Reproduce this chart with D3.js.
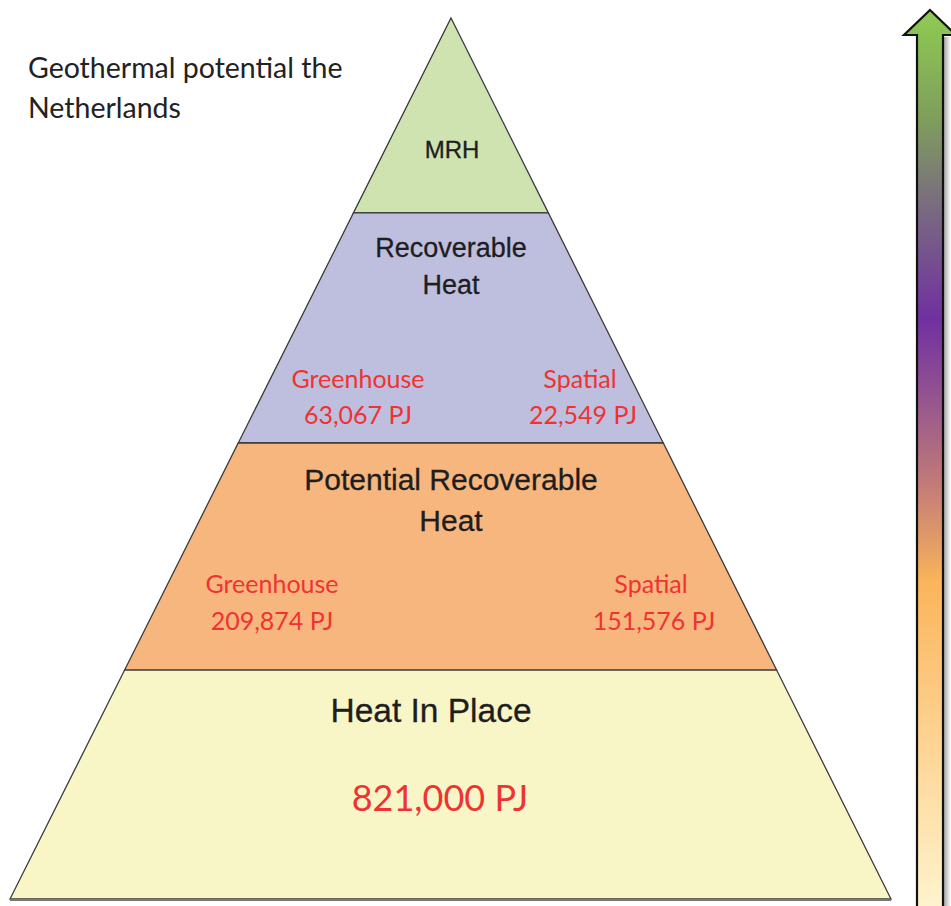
<!DOCTYPE html>
<html><head><meta charset="utf-8">
<script src="https://cdn.jsdelivr.net/npm/d3@7"></script>
<style>body{margin:0;background:#fff}svg{display:block}</style>
</head><body>
<script>
// ---- data ----
const titleLines = ["Geothermal potential the", "Netherlands"];
const layerNames = [["MRH"], ["Recoverable", "Heat"], ["Potential Recoverable", "Heat"], ["Heat In Place"]];
const layerColors = ["#cfe3b1", "#bebede", "#f8b67f", "#f8f6c7"];
const greenhouseValues = [null, "63,067 PJ", "209,874 PJ", null];
const spatialValues = [null, "22,549 PJ", "151,576 PJ", null];
const totalValue = ["821,000 PJ"];
const arrowStops = [
  {o: 0.00, c: "#8fcc52"}, {o: 0.12, c: "#7f9e5c"}, {o: 0.21, c: "#7a6e7e"},
  {o: 0.34, c: "#7030a0"}, {o: 0.44, c: "#9a5a8c"}, {o: 0.52, c: "#c27a78"},
  {o: 0.58, c: "#e09a68"}, {o: 0.63, c: "#fbb55b"}, {o: 1.00, c: "#fff6d2"}
];

// ---- layout ----
const W = 951, H = 906;
const svg = d3.select("body").append("svg").attr("width", W).attr("height", H);
const apex = {x: 451, y: 18}, baseY = 899, baseL = 10, baseR = 891;
// boundaries as fraction of pyramid height
const bounds = [0, 0.2213, 0.4824, 0.7401, 1];
const yS = d3.scaleLinear().domain([0, 1]).range([apex.y, baseY]);
const xL = d3.scaleLinear().domain([0, 1]).range([apex.x, baseL]);
const xR = d3.scaleLinear().domain([0, 1]).range([apex.x, baseR]);

const defs = svg.append("defs");
const grad = defs.append("linearGradient").attr("id", "ag").attr("x1", 0).attr("y1", 0).attr("x2", 0).attr("y2", 1);
grad.selectAll("stop").data(arrowStops).join("stop").attr("offset", d => d.o).attr("stop-color", d => d.c);
const sh = defs.append("linearGradient").attr("id", "sh").attr("x1", 0).attr("x2", 1);
sh.append("stop").attr("offset", 0).attr("stop-color", "#9a9a9a");
sh.append("stop").attr("offset", 1).attr("stop-color", "#ffffff");

// layers
const layers = layerNames.map((n, i) => ({i, t0: bounds[i], t1: bounds[i + 1]}));
svg.append("g").selectAll("path").data(layers).join("path")
  .attr("d", d => {
    const p = d3.path();
    p.moveTo(xL(d.t0), yS(d.t0));
    p.lineTo(xR(d.t0), yS(d.t0));
    p.lineTo(xR(d.t1), yS(d.t1));
    p.lineTo(xL(d.t1), yS(d.t1));
    p.closePath();
    return p.toString();
  })
  .attr("fill", d => layerColors[d.i])
  .attr("stroke", "#3a3a3a").attr("stroke-width", 1.3).attr("stroke-linejoin", "miter");
// base shadow line
svg.append("line").attr("x1", baseL).attr("x2", baseR).attr("y1", baseY + 1).attr("y2", baseY + 1)
  .attr("stroke", "#777").attr("stroke-width", 2);

// title
svg.append("g").selectAll("text").data(titleLines).join("text")
  .attr("x", 28).attr("y", (d, i) => 78 + i * 40)
  .attr("font-family", "Lato, 'Open Sans', sans-serif").attr("font-size", 28.5)
  .attr("fill", "#222").text(d => d);

const dark = "#1e1e1e", red = "#ee3333";
const sans = "'Liberation Sans', Arial, sans-serif";
const calib = "Lato, 'Open Sans', sans-serif";
// layer titles
const titleSpec = [
  {size: 24, y0: 158, dy: 0, x: 452},
  {size: 27, y0: 257, dy: 37, x: 451},
  {size: 30, y0: 490, dy: 41, x: 451},
  {size: 33.5, y0: 722, dy: 0, x: 431}
];
layers.forEach(l => {
  const s = titleSpec[l.i];
  svg.append("g").selectAll("text").data(layerNames[l.i]).join("text")
    .attr("x", s.x).attr("y", (d, j) => s.y0 + j * s.dy)
    .attr("text-anchor", "middle").attr("font-family", sans).attr("font-size", s.size)
    .attr("fill", dark).attr("stroke", dark).attr("stroke-width", 0.3).text(d => d);
});
// sub labels
const subSpec = [null, {gx: 358, sx: 580, y: 388, dy: 36, size: 25}, {gx: 272, sx: 651, y: 593, dy: 37, size: 25}, null];
layers.forEach(l => {
  const s = subSpec[l.i];
  if (!s) return;
  const g = svg.append("g").attr("font-family", calib).attr("font-size", s.size).attr("fill", red).attr("text-anchor", "middle");
  g.append("text").attr("x", s.gx).attr("y", s.y).text("Greenhouse");
  g.append("text").attr("x", s.gx).attr("y", s.y + s.dy).text(greenhouseValues[l.i]);
  g.append("text").attr("x", s.sx).attr("y", s.y).text("Spatial");
  g.append("text").attr("x", s.sx + 3).attr("y", s.y + s.dy).text(spatialValues[l.i]);
});
svg.append("text").attr("x", 440).attr("y", 811).attr("text-anchor", "middle")
  .attr("font-family", calib).attr("font-size", 36).attr("fill", red).text(totalValue[0]);

// arrow
const ax = 930, shaftHalf = 13, headHalf = 26, tipY = 10, headY = 35, botY = 920;
svg.append("rect").attr("x", ax + shaftHalf).attr("y", headY + 2).attr("width", 8).attr("height", botY)
  .attr("fill", "url(#sh)");
const ap = d3.path();
ap.moveTo(ax, tipY);
ap.lineTo(ax + headHalf, headY);
ap.lineTo(ax + shaftHalf, headY);
ap.lineTo(ax + shaftHalf, botY);
ap.lineTo(ax - shaftHalf, botY);
ap.lineTo(ax - shaftHalf, headY);
ap.lineTo(ax - headHalf, headY);
ap.closePath();
svg.append("path").attr("d", ap.toString()).attr("fill", "url(#ag)")
  .attr("stroke", "#111").attr("stroke-width", 2.2).attr("stroke-linejoin", "miter");
</script>
</body></html>
